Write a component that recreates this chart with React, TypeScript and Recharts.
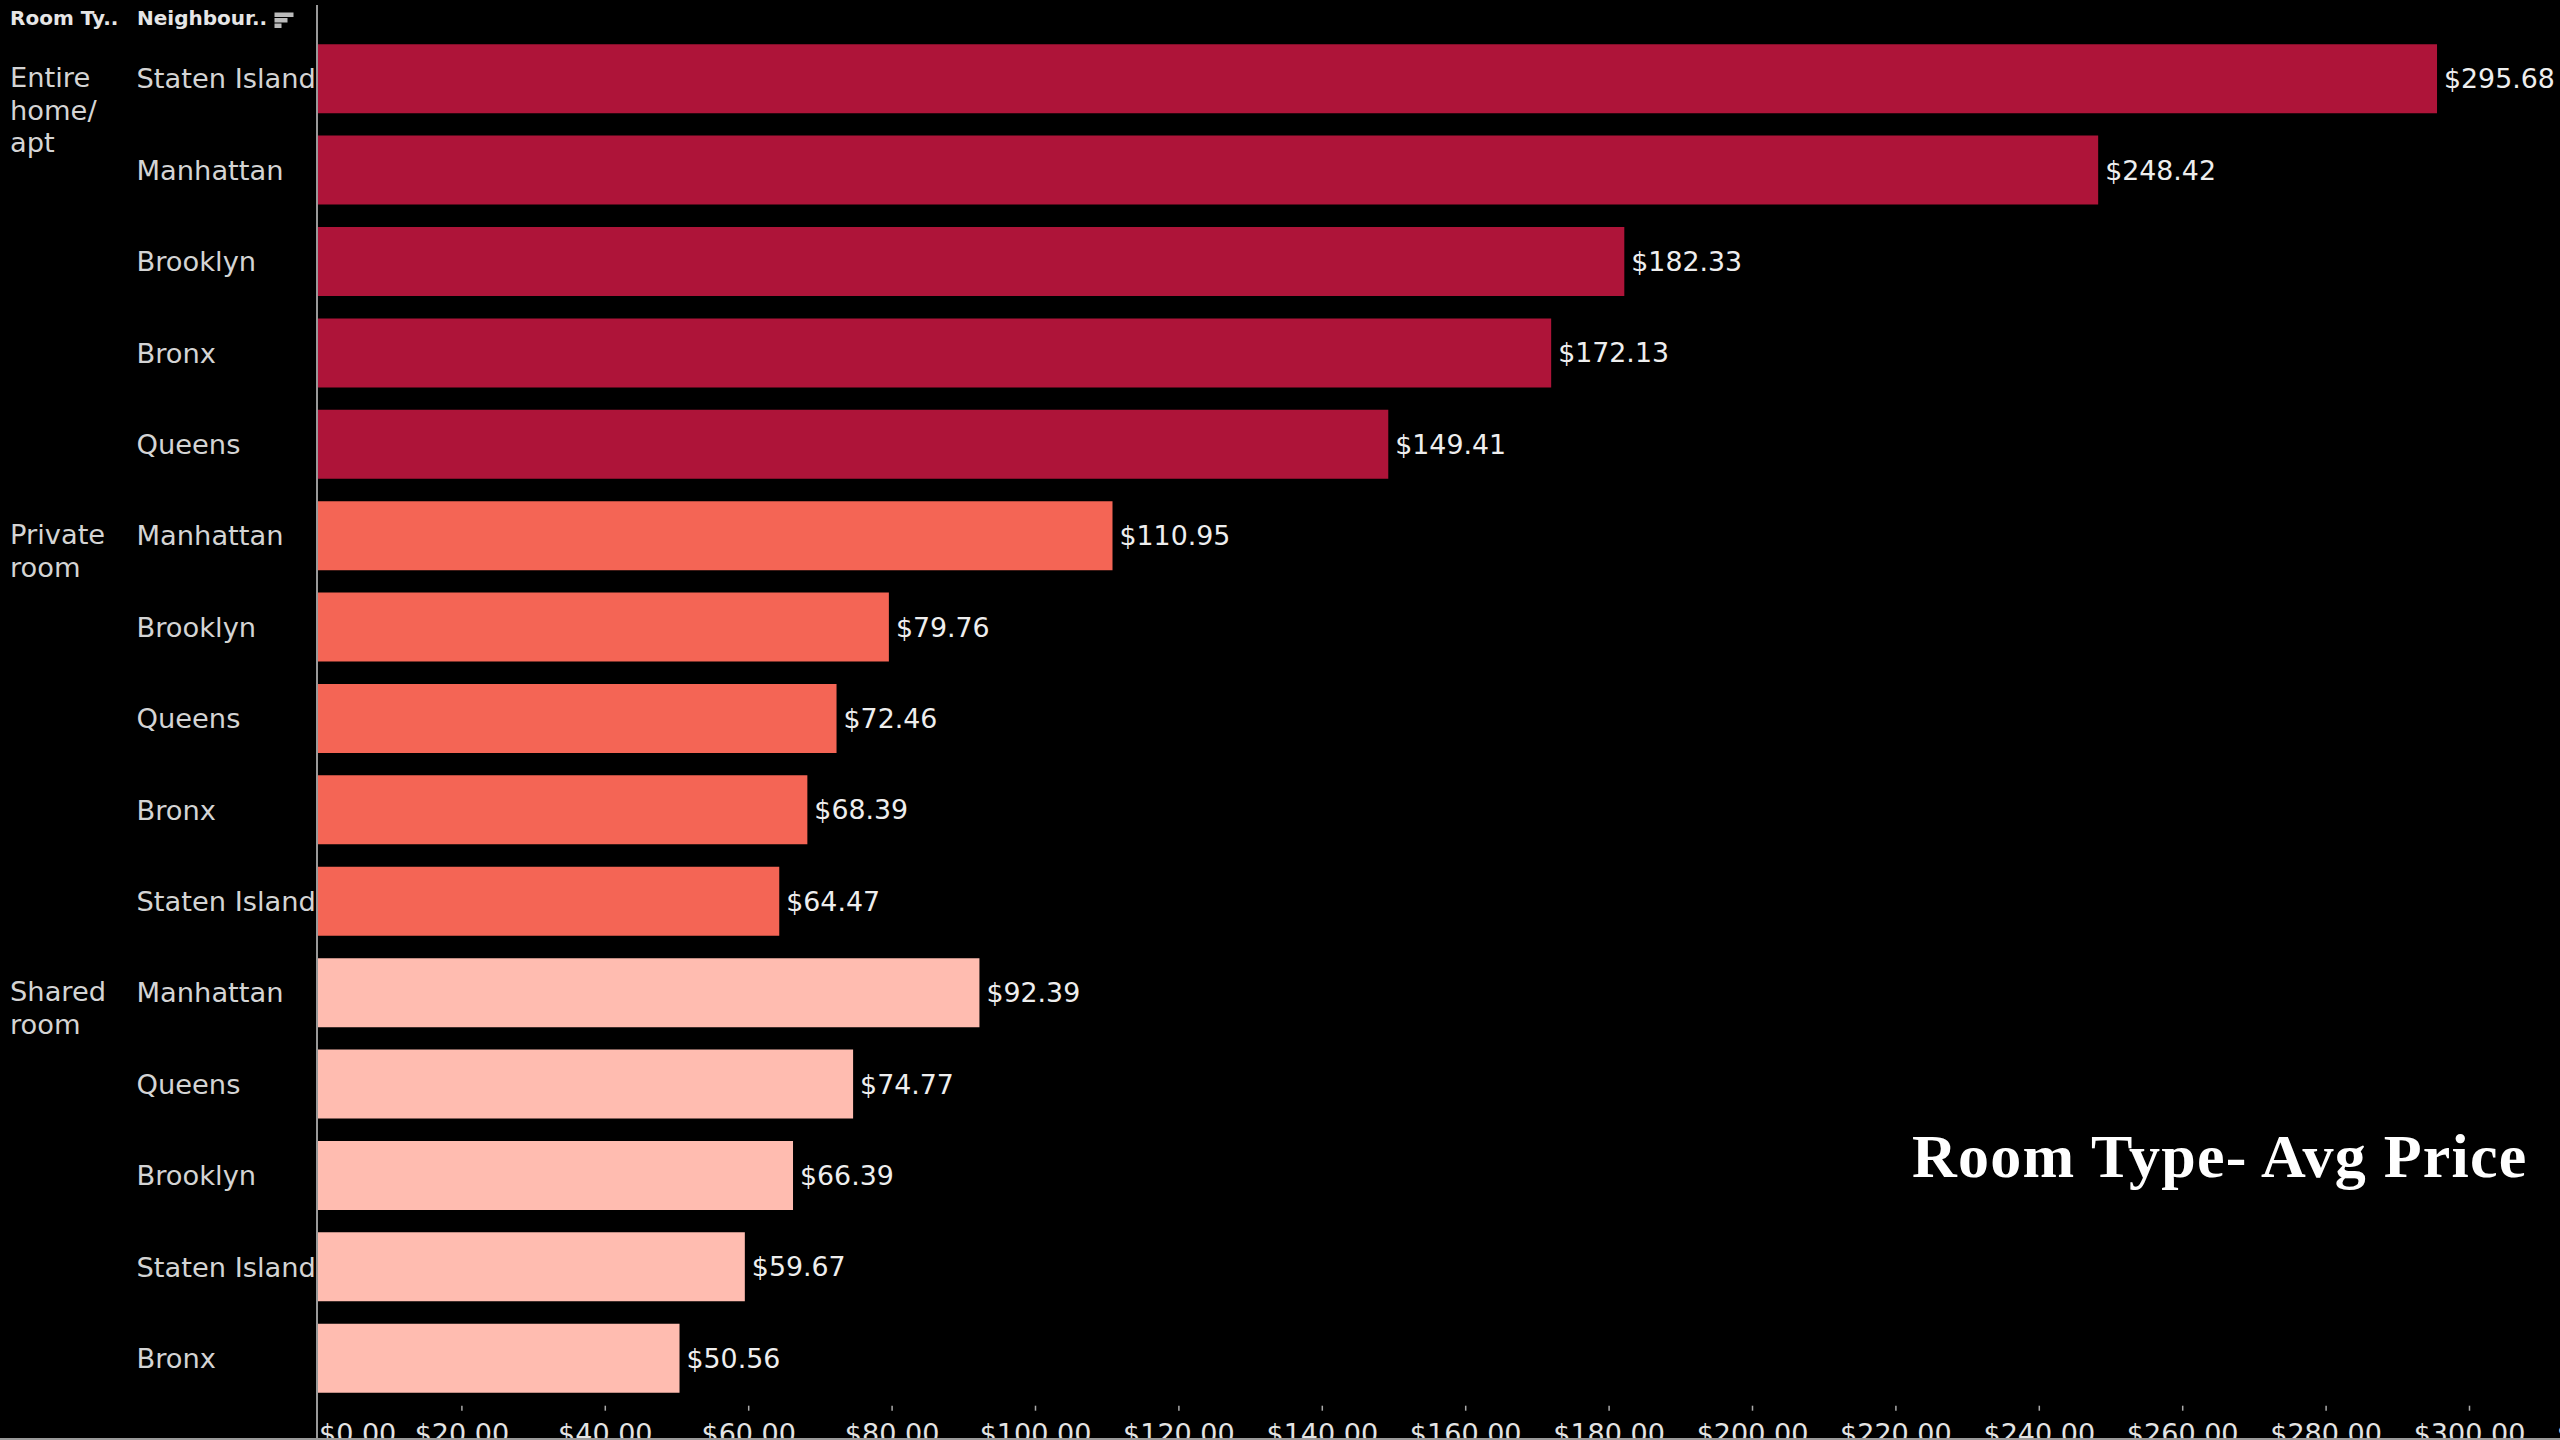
import { Bar, BarChart, Cell, LabelList, XAxis, YAxis } from "recharts";

const roomTypeLines = [["Entire", "home/", "apt"], ["Private", "room"], ["Shared", "room"]];
const roomTypeColors = ["#AE1439", "#F46555", "#FFBCB0"];
const groupSize = 5;

const neighbourhoods = [
  "Staten Island", "Manhattan", "Brooklyn", "Bronx", "Queens",
  "Manhattan", "Brooklyn", "Queens", "Bronx", "Staten Island",
  "Manhattan", "Queens", "Brooklyn", "Staten Island", "Bronx",
];
const avgPrices = [
  295.68, 248.42, 182.33, 172.13, 149.41,
  110.95, 79.76, 72.46, 68.39, 64.47,
  92.39, 74.77, 66.39, 59.67, 50.56,
];
const priceTicks = [0, 20, 40, 60, 80, 100, 120, 140, 160, 180, 200, 220, 240, 260, 280, 300, 320];

const chartData = neighbourhoods.map((name, i) => ({ name, price: avgPrices[i] }));

const FONT = "'DejaVu Sans', sans-serif";
const money = (v: number) => `$${v.toFixed(2)}`;

function NeighbourTick({ y, index, payload }: any) {
  const group = index % groupSize === 0 ? roomTypeLines[index / groupSize] : null;
  return (
    <g fontFamily={FONT} fontSize={27.3} fill="#d4d4d4">
      <text x={136.5} y={y + 10}>{payload.value}</text>
      {group?.map((line, i) => (
        <text key={line} x={10} y={y + 9 + i * 32.3}>{line}</text>
      ))}
    </g>
  );
}

function PriceTick({ x, y, payload }: any) {
  const isZero = payload.value === 0;
  return (
    <g fontFamily={FONT} fontSize={27} fill="#e4e4e4">
      {!isZero && <line x1={x + 1.5} x2={x + 1.5} y1={y - 6} y2={y - 1} stroke="#aaaaaa" strokeWidth={1.5} />}
      <text x={isZero ? x + 2 : x + 1.5} y={y + 31} textAnchor={isZero ? "start" : "middle"}>
        {money(payload.value)}
      </text>
    </g>
  );
}

export default function App() {
  return (
    <div
      style={{
        position: "absolute",
        left: 0,
        top: 0,
        width: 2560,
        height: 1440,
        overflow: "hidden",
        background: "#000",
      }}
    >
      <BarChart
        width={2680}
        height={1500}
        data={chartData}
        layout="vertical"
        barCategoryGap="12.5%"
        margin={{ top: 32.8, right: 68.6, bottom: 56.3, left: 0 }}
      >
        <XAxis
          type="number"
          domain={[0, 320]}
          ticks={priceTicks}
          interval={0}
          height={40}
          axisLine={false}
          tickLine={false}
          tick={<PriceTick />}
        />
        <YAxis
          type="category"
          dataKey="name"
          width={317}
          interval={0}
          axisLine={false}
          tickLine={false}
          tick={<NeighbourTick />}
        />
        <Bar dataKey="price" isAnimationActive={false}>
          {chartData.map((_, i) => (
            <Cell key={i} fill={roomTypeColors[Math.floor(i / groupSize)]} />
          ))}
          <LabelList
            dataKey="price"
            position="right"
            offset={7}
            formatter={(v: any) => money(Number(v))}
            fill="#eeeeee"
            fontFamily={FONT}
            fontSize={26.8}
          />
        </Bar>
      </BarChart>

      {/* Header row */}
      <div style={{ position: "absolute", left: 10, top: 6, font: `bold 20px ${FONT}`, color: "#e6e6e6" }}>
        Room Ty..
      </div>
      <div style={{ position: "absolute", left: 137, top: 6, font: `bold 20px ${FONT}`, color: "#e6e6e6" }}>
        Neighbour..
      </div>
      <svg style={{ position: "absolute", left: 274, top: 12 }} width={20} height={17}>
        <rect x={0.5} y={0.5} width={19} height={4.5} fill="#bbbbbb" />
        <rect x={0.5} y={6} width={13} height={4.5} fill="#bbbbbb" />
        <rect x={0.5} y={11.5} width={7} height={4.5} fill="#bbbbbb" />
      </svg>

      {/* Pane rules */}
      <div style={{ position: "absolute", left: 316, top: 5, width: 2, height: 1435, background: "#999" }} />
      <div style={{ position: "absolute", left: 0, top: 1438, width: 2560, height: 2, background: "#999" }} />

      <div
        style={{
          position: "absolute",
          left: 1912,
          top: 1121,
          font: "bold 62px 'Liberation Serif', serif",
          letterSpacing: 1.25,
          color: "#fff",
          whiteSpace: "nowrap",
        }}
      >
        Room Type- Avg Price
      </div>
    </div>
  );
}
